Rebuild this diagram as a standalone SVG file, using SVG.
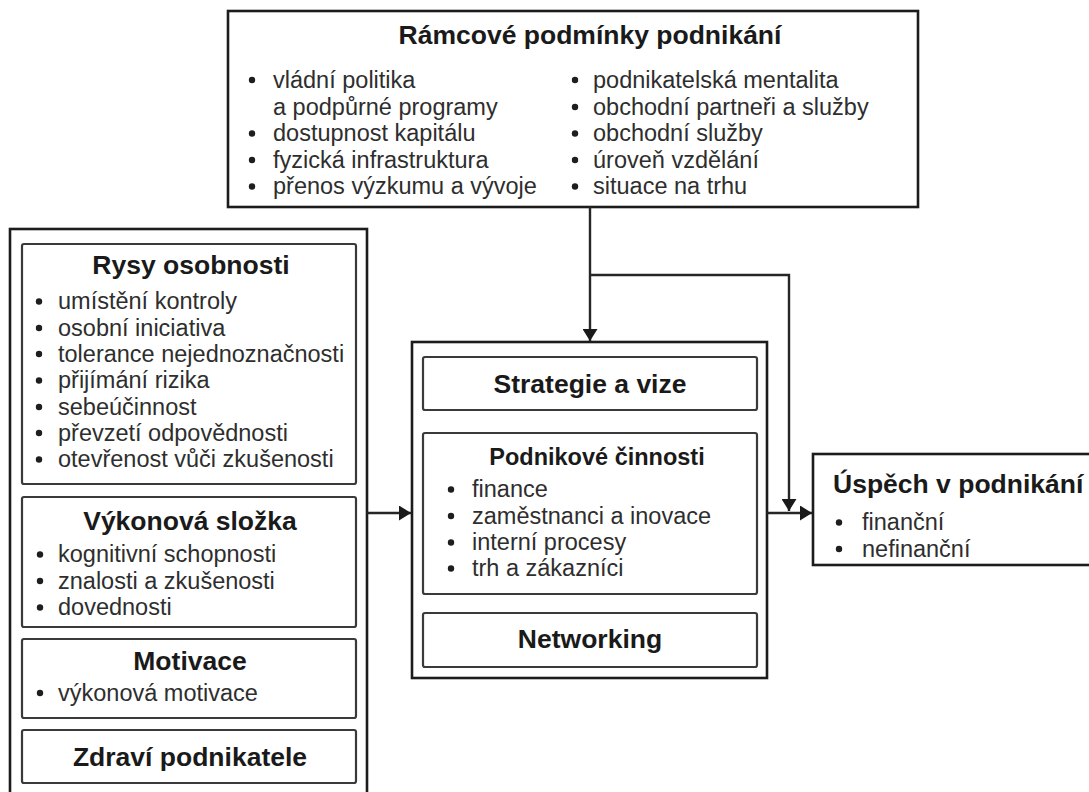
<svg xmlns="http://www.w3.org/2000/svg" width="1089" height="792" viewBox="0 0 1089 792">
  <style>
    .outer { fill: #fff; stroke: #1c1c1c; stroke-width: 2.6; }
    .inner { fill: #fff; stroke: #3a3a3a; stroke-width: 2.2; }
    .title { font-family: "Liberation Sans", Arial, sans-serif; font-weight: bold; font-size: 26.5px; fill: #1a1a1a; }
    .sub { font-family: "Liberation Sans", Arial, sans-serif; font-weight: bold; font-size: 23.5px; fill: #1a1a1a; }
    .item { font-family: "Liberation Sans", Arial, sans-serif; font-size: 23.5px; fill: #2e2e2e; }
    .mid { text-anchor: middle; }
    .dot { fill: #1e1e1e; }
    .wire { fill: none; stroke: #262626; stroke-width: 2.4; }
  </style>
  <defs>
    <marker id="arrow" viewBox="0 0 12 15" refX="12" refY="7.5" markerWidth="12" markerHeight="15" markerUnits="userSpaceOnUse" orient="auto">
      <path d="M0,0 L12,7.5 L0,15 Z" fill="#1a1a1a"/>
    </marker>
  </defs>
  <rect width="1089" height="792" fill="#fff"/>

  <!-- framework conditions -->
  <g id="ramcove-podminky">
    <rect class="outer" x="228" y="11" width="690" height="196"/>
    <text class="title mid" x="590" y="44">Rámcové podmínky podnikání</text>
    <circle class="dot" cx="252" cy="80" r="3.2"/>
    <text class="item" x="273" y="88">vládní politika</text>
    <text class="item" x="273" y="114.5">a podpůrné programy</text>
    <circle class="dot" cx="252" cy="133.5" r="3.2"/>
    <text class="item" x="273" y="141">dostupnost kapitálu</text>
    <circle class="dot" cx="252" cy="160" r="3.2"/>
    <text class="item" x="273" y="167.5">fyzická infrastruktura</text>
    <circle class="dot" cx="252" cy="186.5" r="3.2"/>
    <text class="item" x="273" y="194">přenos výzkumu a vývoje</text>
    <circle class="dot" cx="575" cy="80" r="3.2"/>
    <text class="item" x="593" y="88">podnikatelská mentalita</text>
    <circle class="dot" cx="575" cy="107" r="3.2"/>
    <text class="item" x="593" y="114.5">obchodní partneři a služby</text>
    <circle class="dot" cx="575" cy="133.5" r="3.2"/>
    <text class="item" x="593" y="141">obchodní služby</text>
    <circle class="dot" cx="575" cy="160" r="3.2"/>
    <text class="item" x="593" y="167.5">úroveň vzdělání</text>
    <circle class="dot" cx="575" cy="186.5" r="3.2"/>
    <text class="item" x="593" y="194">situace na trhu</text>
  </g>

  <!-- entrepreneur characteristics -->
  <g id="podnikatel">
    <rect class="outer" x="10" y="229" width="357" height="570"/>
    <g id="rysy-osobnosti">
      <rect class="inner" x="22" y="244" width="334" height="240" rx="2"/>
      <text class="title mid" x="191" y="274">Rysy osobnosti</text>
      <circle class="dot" cx="39" cy="301.5" r="3.2"/>
      <text class="item" x="58" y="309">umístění kontroly</text>
      <circle class="dot" cx="39" cy="328" r="3.2"/>
      <text class="item" x="58" y="335.5">osobní iniciativa</text>
      <circle class="dot" cx="39" cy="354" r="3.2"/>
      <text class="item" x="58" y="361.5">tolerance nejednoznačnosti</text>
      <circle class="dot" cx="39" cy="380.5" r="3.2"/>
      <text class="item" x="58" y="388">přijímání rizika</text>
      <circle class="dot" cx="39" cy="407" r="3.2"/>
      <text class="item" x="58" y="414.5">sebeúčinnost</text>
      <circle class="dot" cx="39" cy="433" r="3.2"/>
      <text class="item" x="58" y="440.5">převzetí odpovědnosti</text>
      <circle class="dot" cx="39" cy="459.5" r="3.2"/>
      <text class="item" x="58" y="467">otevřenost vůči zkušenosti</text>
    </g>
    <g id="vykonova-slozka">
      <rect class="inner" x="22" y="497" width="334" height="130" rx="2"/>
      <text class="title mid" x="190" y="530">Výkonová složka</text>
      <circle class="dot" cx="40" cy="554.5" r="3.2"/>
      <text class="item" x="58" y="562">kognitivní schopnosti</text>
      <circle class="dot" cx="40" cy="581" r="3.2"/>
      <text class="item" x="58" y="588.5">znalosti a zkušenosti</text>
      <circle class="dot" cx="40" cy="607.5" r="3.2"/>
      <text class="item" x="58" y="615">dovednosti</text>
    </g>
    <g id="motivace">
      <rect class="inner" x="22" y="639" width="334" height="79" rx="2"/>
      <text class="title mid" x="190" y="670">Motivace</text>
      <circle class="dot" cx="40" cy="693" r="3.2"/>
      <text class="item" x="58" y="700.5">výkonová motivace</text>
    </g>
    <g id="zdravi-podnikatele">
      <rect class="inner" x="22" y="730" width="334" height="53" rx="2"/>
      <text class="title mid" x="190" y="766">Zdraví podnikatele</text>
    </g>
  </g>

  <!-- business -->
  <g id="podnik">
    <rect class="outer" x="412" y="342" width="355" height="336"/>
    <g id="strategie">
      <rect class="inner" x="423" y="357" width="334" height="53" rx="2"/>
      <text class="title mid" x="590" y="393">Strategie a vize</text>
    </g>
    <g id="podnikove-cinnosti">
      <rect class="inner" x="423" y="433" width="334" height="161" rx="2"/>
      <text class="sub mid" x="597" y="465">Podnikové činnosti</text>
      <circle class="dot" cx="451" cy="489.5" r="3.2"/>
      <text class="item" x="472" y="497">finance</text>
      <circle class="dot" cx="451" cy="516" r="3.2"/>
      <text class="item" x="472" y="523.5">zaměstnanci a inovace</text>
      <circle class="dot" cx="451" cy="542.5" r="3.2"/>
      <text class="item" x="472" y="550">interní procesy</text>
      <circle class="dot" cx="451" cy="568.5" r="3.2"/>
      <text class="item" x="472" y="576">trh a zákazníci</text>
    </g>
    <g id="networking">
      <rect class="inner" x="423" y="613" width="334" height="54" rx="2"/>
      <text class="title mid" x="590" y="648">Networking</text>
    </g>
  </g>

  <!-- business success -->
  <g id="uspech">
    <rect class="outer" x="813" y="454" width="290" height="111"/>
    <text class="title" x="833" y="493">Úspěch v podnikání</text>
    <circle class="dot" cx="839" cy="522.5" r="3.2"/>
    <text class="item" x="862" y="530">finanční</text>
    <circle class="dot" cx="839" cy="549" r="3.2"/>
    <text class="item" x="862" y="556.5">nefinanční</text>
  </g>

  <!-- connectors -->
  <g id="connectors">
    <path class="wire" d="M590,207 V341" marker-end="url(#arrow)"/>
    <path class="wire" d="M590,275 H789 V511" marker-end="url(#arrow)"/>
    <path class="wire" d="M767,513 H812" marker-end="url(#arrow)"/>
    <path class="wire" d="M367,513 H411" marker-end="url(#arrow)"/>
  </g>
</svg>
